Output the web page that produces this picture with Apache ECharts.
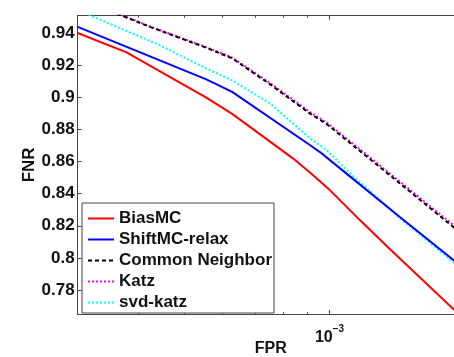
<!DOCTYPE html>
<html>
<head>
<meta charset="utf-8">
<script src="https://cdn.jsdelivr.net/npm/echarts@6/dist/echarts.min.js"></script>
<style>html,body{margin:0;padding:0;background:#fff}#c{width:454px;height:357px}</style>
</head>
<body>
<div id="c"></div>
<script>
// ---- data ----
const seriesNames = ['BiasMC', 'ShiftMC-relax', 'Common Neighbor', 'Katz', 'svd-katz'];

const biasFPR = [3.0e-4, 3.79e-4, 5.55e-4, 6.28e-4, 8.41e-4, 9.25e-4, 1.003e-3, 1.158e-3, 1.336e-3, 1.9e-3];
const biasFNR = [0.9402, 0.9281, 0.8999, 0.8898, 0.8619, 0.8515, 0.8421, 0.8234, 0.8054, 0.7620];

const shiftFPR = [3.0e-4, 5.55e-4, 6.28e-4, 9.12e-4, 9.57e-4, 1.052e-3, 1.402e-3, 1.9e-3];
const shiftFNR = [0.9440, 0.9113, 0.9035, 0.8702, 0.8658, 0.8558, 0.8253, 0.7935];

const cnFPR = [3.0e-4, 3.73e-4, 4.25e-4, 5.55e-4, 6.28e-4, 7.53e-4, 9.12e-4, 9.89e-4, 1.349e-3, 1.9e-3];
const cnFNR = [0.9614, 0.9507, 0.9439, 0.9310, 0.9244, 0.9082, 0.8899, 0.8832, 0.8504, 0.8140];

const katzFPR = [3.0e-4, 3.73e-4, 4.25e-4, 5.55e-4, 6.28e-4, 7.53e-4, 9.12e-4, 9.89e-4, 1.349e-3, 1.9e-3];
const katzFNR = [0.9617, 0.9510, 0.9442, 0.9314, 0.9249, 0.9090, 0.8908, 0.8842, 0.8515, 0.8152];

const svdFPR = [3.0e-4, 4.45e-4, 5.55e-4, 6.28e-4, 7.53e-4, 9.12e-4, 9.89e-4, 1.104e-3, 1.402e-3, 1.9e-3];
const svdFNR = [0.9546, 0.9325, 0.9181, 0.9107, 0.8963, 0.8745, 0.8670, 0.8527, 0.8247, 0.7920];

const yTicks = [0.78, 0.80, 0.82, 0.84, 0.86, 0.88, 0.90, 0.92, 0.94];
const xMajorTicks = [1e-3];
const xMinorTicks = [3e-4, 4e-4, 5e-4, 6e-4, 7e-4, 8e-4, 9e-4];

const xMin = 3e-4, xMax = 1.9e-3, yMin = 0.765, yMax = 0.951;

const FONT = '"Liberation Sans", Arial, Helvetica, sans-serif';
const AXC = '#444';

function zip(xs, ys) { return xs.map((x, i) => [x, ys[i]]); }

function xAxisDef(pos, ticks, len, labels) {
  return {
    type: 'log', position: pos, min: xMin, max: xMax,
    name: (pos === 'bottom' && labels) ? 'FPR' : '',
    nameLocation: 'middle', nameGap: 27, nameMoveOverlap: false,
    nameTextStyle: { fontFamily: FONT, fontWeight: 'bold', fontSize: 16, color: '#111' },
    axisLine: { show: true, onZero: false, lineStyle: { color: AXC, width: 1 } },
    axisTick: { show: true, inside: true, length: len, customValues: ticks, lineStyle: { color: AXC } },
    axisLabel: labels ? {
      show: true, customValues: ticks, margin: 10,
      formatter: v => '{b|10}{s|\u22123}',
      rich: {
        b: { fontFamily: FONT, fontWeight: 'bold', fontSize: 16, color: '#111', lineHeight: 22, verticalAlign: 'bottom' },
        s: { fontFamily: FONT, fontWeight: 'bold', fontSize: 10, color: '#111', lineHeight: 22, verticalAlign: 'top' }
      }
    } : { show: false },
    splitLine: { show: false }, minorTick: { show: false }, minorSplitLine: { show: false }
  };
}

const option = {
  animation: false,
  backgroundColor: '#fff',
  grid: { left: 77.7, top: 15.7, right: -9.7, bottom: 43, containLabel: false, outerBoundsMode: 'none' },
  xAxis: [
    xAxisDef('bottom', xMajorTicks, 4, true),
    xAxisDef('bottom', xMinorTicks, 2, false),
    xAxisDef('top', xMajorTicks, 4, false),
    xAxisDef('top', xMinorTicks, 2, false)
  ],
  yAxis: [{
    type: 'value', min: yMin, max: yMax, position: 'left',
    name: 'FNR', nameLocation: 'middle', nameGap: 40, nameMoveOverlap: false,
    nameTextStyle: { fontFamily: FONT, fontWeight: 'bold', fontSize: 17, color: '#111' },
    axisLine: { show: true, onZero: false, lineStyle: { color: AXC, width: 1 } },
    axisTick: { show: true, inside: true, length: 4, customValues: yTicks, lineStyle: { color: AXC } },
    axisLabel: {
      show: true, customValues: yTicks, margin: 3,
      fontFamily: FONT, fontWeight: 'bold', fontSize: 17, color: '#111',
      formatter: v => String(+v.toFixed(2))
    },
    splitLine: { show: false }
  }],
  legend: {
    orient: 'vertical', left: 82, top: 203,
    data: seriesNames,
    backgroundColor: '#fff', borderColor: '#444', borderWidth: 1, borderRadius: 0,
    padding: [7, 2, 2, 5], itemGap: 4, itemWidth: 26, itemHeight: 12,
    itemStyle: { opacity: 0 },
    textStyle: { fontFamily: FONT, fontWeight: 'bold', fontSize: 17, color: '#111', lineHeight: 17 },
    selectedMode: false
  },
  series: [
    { name: seriesNames[0], type: 'line', data: zip(biasFPR, biasFNR), symbol: 'none', z: 5,
      lineStyle: { color: '#ff0000', width: 2 }, itemStyle: { color: '#ff0000' } },
    { name: seriesNames[1], type: 'line', data: zip(shiftFPR, shiftFNR), symbol: 'none', z: 5,
      lineStyle: { color: '#0000ff', width: 2 }, itemStyle: { color: '#0000ff' } },
    { name: seriesNames[2], type: 'line', data: zip(cnFPR, cnFNR), symbol: 'none', z: 4,
      lineStyle: { color: '#000000', width: 2, type: [4, 3] }, itemStyle: { color: '#000000' } },
    { name: seriesNames[3], type: 'line', data: zip(katzFPR, katzFNR), symbol: 'none', z: 3,
      lineStyle: { color: '#ff00ff', width: 2, type: [2, 2] }, itemStyle: { color: '#ff00ff' } },
    { name: seriesNames[4], type: 'line', data: zip(svdFPR, svdFNR), symbol: 'none', z: 3,
      lineStyle: { color: '#00ffff', width: 2, type: [2, 2] }, itemStyle: { color: '#00ffff' } }
  ]
};

const chart = echarts.init(document.getElementById('c'), null, { renderer: 'canvas' });
chart.setOption(option);
</script>
</body>
</html>
